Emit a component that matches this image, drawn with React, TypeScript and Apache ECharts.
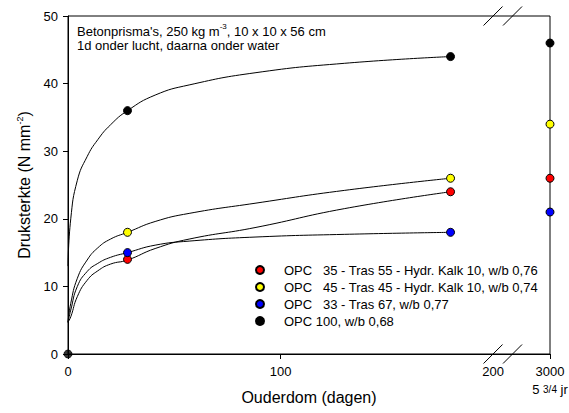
import React, { useEffect, useRef } from "react";
import * as echarts from "echarts";

// Measured points (days, N/mm2)
const DAYS = [28, 180, 3000];
const OPC35 = [14, 24, 26];
const OPC45 = [18, 26, 34];
const OPC33 = [15, 18, 21];
const OPC100 = [36, 44, 46];
const ORIGIN_DAY = 0;
const ORIGIN_VALUE = 0;

// Fitted curves (0-180 days)
const CURVE_DAYS = [0, 1.3, 4.4, 9, 14, 20, 28, 41, 57, 88, 130, 180];
const CURVE_OPC35 = [4.7, 5.5, 8.5, 10.9, 12.3, 13.3, 13.9, 15.6, 17.0, 18.7, 21.5, 24];
const CURVE_OPC45 = [4.7, 7.5, 11.2, 13.9, 15.7, 17.0, 18.0, 19.6, 20.8, 22.3, 24.2, 26];
const CURVE_OPC33 = [4.7, 6.5, 10.0, 12.2, 13.4, 14.3, 15.0, 16.1, 16.7, 17.3, 17.7, 18];
const CURVE_OPC100 = [13, 20, 25.7, 29.2, 31.7, 33.9, 36, 38.3, 39.8, 41.6, 43, 44];

const NAMES = [
  "OPC   35 - Tras 55 - Hydr. Kalk 10, w/b 0,76",
  "OPC   45 - Tras 45 - Hydr. Kalk 10, w/b 0,74",
  "OPC   33 - Tras 67, w/b 0,77",
  "OPC 100, w/b 0,68",
];
const COLORS = ["#ff0000", "#ffff00", "#0000ff", "#000000"];

const X_LABEL_DAYS = [0, 100, 200, 3000];
const X_TICK_DAYS = [0, 100, 3000];
const LONG_DAY = 3000;
const LONG_LABEL = "{a|5 }{b|3/4}{a| jr}";

// broken axis: everything beyond BREAK_DAY is drawn at the axis end
const BREAK_DAY = 200;
const AXIS_END = 226.8;
const mapDay = (d: number) => (d > BREAK_DAY ? AXIS_END : d);

const FONT = "'Liberation Sans', Arial, sans-serif";

export default function App() {
  const ref = useRef<HTMLDivElement>(null);
  useEffect(() => {
    const chart = echarts.init(ref.current!, null, { renderer: "svg" });
    const curves = [CURVE_OPC35, CURVE_OPC45, CURVE_OPC33, CURVE_OPC100];
    const points = [OPC35, OPC45, OPC33, OPC100];
    const series: any[] = [];
    curves.forEach((c) => {
      series.push({
        type: "line",
        data: CURVE_DAYS.map((d, i) => [d, c[i]]),
        symbol: "none",
        smooth: 0.5,
        lineStyle: { color: "#000", width: 1 },
        silent: true,
        z: 2,
      });
    });
    points.forEach((p, k) => {
      series.push({
        type: "scatter",
        name: NAMES[k],
        data: DAYS.map((d, i) => [mapDay(d), p[i]]),
        symbolSize: 8,
        itemStyle: { color: COLORS[k], borderColor: "#000", borderWidth: 1, opacity: 1 },
        clip: false,
        z: 5,
      });
    });
    series.push({
      type: "scatter",
      data: [[ORIGIN_DAY, ORIGIN_VALUE]],
      symbolSize: 8,
      itemStyle: { color: "#000", borderColor: "#000", borderWidth: 1 },
      clip: false,
      z: 5,
    });

    const labelValues = X_LABEL_DAYS.map(mapDay);

    chart.setOption({
      animation: false,
      backgroundColor: "#fff",
      textStyle: { fontFamily: FONT, color: "#000" },
      grid: {
        left: 68,
        right: 19,
        top: 16,
        bottom: 59,
        show: true,
        borderColor: "#000",
        borderWidth: 1,
        containLabel: false,
        outerBoundsMode: "none",
      },
      title: {
        left: 77,
        top: 24,
        padding: 0,
        text: "Betonprisma's, 250 kg m{sup|-3}, 10 x 10 x 56 cm\n1d onder lucht, daarna onder water",
        textStyle: {
          fontFamily: FONT,
          fontSize: 13,
          fontWeight: "normal",
          color: "#000",
          lineHeight: 14,
          rich: {
            sup: { fontFamily: FONT, fontSize: 8, color: "#000", padding: [0, 0, 9, 0] },
          },
        },
      },
      legend: {
        data: NAMES,
        orient: "vertical",
        left: 255,
        top: 263,
        padding: 0,
        itemWidth: 38,
        itemHeight: 8,
        itemGap: 3,
        icon: "circle",
        textStyle: { fontFamily: FONT, fontSize: 13, color: "#000", lineHeight: 14 },
        selectedMode: false,
      },
      xAxis: {
        type: "value",
        min: 0,
        max: AXIS_END,
        name: "Ouderdom (dagen)",
        nameLocation: "middle",
        nameGap: 35,
        nameTextStyle: { fontFamily: FONT, fontSize: 16, color: "#000" },
        axisLine: { show: true, lineStyle: { color: "#000", width: 1 } },
        axisTick: {
          show: true,
          length: 5,
          customValues: X_TICK_DAYS.map(mapDay),
          lineStyle: { color: "#000" },
        },
        axisLabel: {
          customValues: labelValues,
          margin: 11,
          fontFamily: FONT,
          fontSize: 13,
          color: "#000",
          formatter: (v: number) => {
            const idx = labelValues.indexOf(v);
            return String(idx >= 0 ? X_LABEL_DAYS[idx] : v);
          },
        },
        splitLine: { show: false },
      },
      yAxis: {
        type: "value",
        min: 0,
        max: 50,
        interval: 10,
        name: "Druksterkte (N mm{sup|-2})",
        nameLocation: "middle",
        nameGap: 34,
        nameTextStyle: {
          fontFamily: FONT,
          fontSize: 16,
          color: "#000",
          rich: {
            sup: { fontFamily: FONT, fontSize: 9, color: "#000", padding: [0, 0, 10, 0] },
          },
        },
        axisLine: { show: true, lineStyle: { color: "#000", width: 1 } },
        axisTick: { show: true, length: 5, lineStyle: { color: "#000" } },
        axisLabel: { margin: 10, fontFamily: FONT, fontSize: 13, color: "#000" },
        splitLine: { show: false },
      },
      series,
    });

    const bx = chart.convertToPixel({ xAxisIndex: 0 }, BREAK_DAY) as number;
    const xEnd = chart.convertToPixel({ xAxisIndex: 0 }, mapDay(LONG_DAY)) as number;
    const yTop = chart.convertToPixel({ yAxisIndex: 0 }, 50) as number;
    const yBot = chart.convertToPixel({ yAxisIndex: 0 }, 0) as number;
    const graphics: any[] = [];
    [yTop, yBot].forEach((cy) => {
      [bx, bx + 19.5].forEach((cx) => {
        graphics.push({
          type: "line",
          shape: { x1: cx - 9.5, y1: cy + 9.5, x2: cx + 9.5, y2: cy - 9.5 },
          style: { stroke: "#000", lineWidth: 1 },
          z: 10,
        });
      });
    });
    graphics.push({
      type: "text",
      x: xEnd,
      y: yBot + 35,
      style: {
        text: LONG_LABEL,
        align: "center",
        verticalAlign: "middle",
        fill: "#000",
        rich: {
          a: { fontFamily: FONT, fontSize: 13, fill: "#000" },
          b: { fontFamily: FONT, fontSize: 10, fill: "#000" },
        },
      },
      z: 10,
    });
    chart.setOption({ graphic: graphics });

    return () => chart.dispose();
  }, []);
  return (
    <div
      ref={ref}
      style={{ position: "fixed", left: 0, top: 0, width: 569, height: 413, background: "#fff" }}
    />
  );
}
